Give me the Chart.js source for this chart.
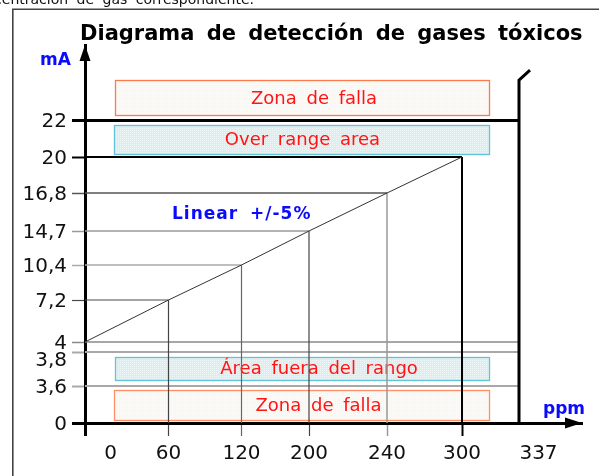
<!DOCTYPE html>
<html><head><meta charset="utf-8">
<script src="https://cdn.jsdelivr.net/npm/chart.js@4/dist/chart.umd.min.js"></script>
<style>html,body{margin:0;padding:0;background:#fff}#wrap{width:599px;height:476px;position:relative}</style>
</head><body><div id="wrap"><canvas id="c"></canvas></div>
<script>
// ---------------- data ----------------
const ppmTicks = [0, 60, 120, 200, 240, 300, 337];
const mATicks = [0, 3.6, 3.8, 4, 7.2, 10.4, 14.7, 16.8, 20, 22];
const linePpm = [0, 60, 120, 200, 240, 300];
const lineMA = [4, 7.2, 10.4, 14.7, 16.8, 20];
const limitLevels = [4, 3.8, 3.6];
const overRangeLevel = 22;
const fullScalePpm = 337;
const fullScaleTopMA = 23.6;
const breakMarkEnd = [344.5, 24];
const zoneLabels = ['Zona de falla', 'Over range area', 'Área fuera del rango', 'Zona de falla'];
const zoneLowMA = [22.2, 20.16, 3.635, 0.29];
const zoneHighMA = [23.6, 21.73, 3.77, 3.21];
const zoneFromPpm = [21.7, 20.8, 21.7, 21];
const zoneToPpm = [317.5, 317.5, 317.5, 317.5];
const titleText = 'Diagrama de detección de gases tóxicos';
const captionText = 'concentración de gas correspondiente.';
const noteText = 'Linear +/-5%';

// ---------------- layout (schematic, non-uniform axes) ----------------
const knots = {
  x: { v: [0, 60, 120, 200, 240, 300, 337, 380], px: [0, 83.5, 156.5, 224, 302, 377, 434, 497] },
  y: { v: [0, 3.6, 3.8, 4, 7.2, 10.4, 14.7, 16.8, 20, 22, 25], px: [0, 37, 71, 81, 123, 158, 192, 230, 266, 302.5, 378] }
};
const labelBase = { x: [0, 3], y: [0, 1.5] };
const labelShift = { x: { 0: [25.5, 0], 337: [19.5, 0] }, y: { 3.8: [0, 7] } };

function interp(vs, ps, v) {
  let i = 0;
  if (v <= vs[0]) i = 0; else if (v >= vs[vs.length - 1]) i = vs.length - 2;
  else { while (i < vs.length - 2 && v > vs[i + 1]) i++; }
  const t = (v - vs[i]) / (vs[i + 1] - vs[i]);
  return ps[i] + t * (ps[i + 1] - ps[i]);
}

class PiecewiseScale extends Chart.LinearScale {
  getPixelForValue(value) {
    const k = knots[this.id];
    const off = interp(k.v, k.px, value);
    return this.isHorizontal() ? this.left + off : this.bottom - off;
  }
  getValueForPixel(pixel) {
    const k = knots[this.id];
    const off = this.isHorizontal() ? pixel - this.left : this.bottom - pixel;
    return interp(k.px, k.v, off);
  }
  _computeLabelItems(chartArea) {
    const items = super._computeLabelItems(chartArea);
    const sh = labelShift[this.id] || {};
    const base = labelBase[this.id] || [0, 0];
    items.forEach((it, i) => {
      const t = this.ticks[i];
      const s = (t && sh[t.value]) || [0, 0];
      it.options.translation[0] += base[0] + s[0];
      it.options.translation[1] += base[1] + s[1];
    });
    return items;
  }
}
PiecewiseScale.id = 'piecewise';
PiecewiseScale.defaults = Chart.LinearScale.defaults;
Chart.register(PiecewiseScale);

// ---------------- styles ----------------
const FONT = 'DejaVu Sans';
const hGuideStyle = [null, ['#4a4a4a', 1.2], ['#aaaaaa', 1.5], ['#999999', 1.5], ['#555555', 1.5], ['#000000', 2]];
const vGuideStyle = [null, ['#444444', 1.2], ['#666666', 1.2], ['#444444', 1.2], ['#999999', 1.5], ['#000000', 2]];
const limitStyle = [['#8a8a8a', 1.5], ['#a8a8a8', 2], ['#a8a8a8', 2]];
const xTickStyle = { 0: ['#000', 3], 60: ['#444', 1.2], 120: ['#666', 1.2], 200: ['#444', 1.2], 240: ['#999', 1.5], 300: ['#000', 2], 337: ['rgba(0,0,0,0)', 0] };
const yTickStyle = { 0: ['#000', 3], 3.6: ['#a8a8a8', 2], 3.8: ['#a8a8a8', 2], 4: ['#8a8a8a', 1.5], 7.2: ['#4a4a4a', 1.2], 10.4: ['#aaa', 1.5], 14.7: ['#999', 1.5], 16.8: ['#555', 1.5], 20: ['#000', 2], 22: ['#000', 3] };
const zoneStyle = [
  { fill: ['#fcf6ef', '#fffdfa'], stroke: '#ff7a4a' },
  { fill: ['#dcedf0', '#eef7f8'], stroke: '#62c2d6' },
  { fill: ['#dcedf0', '#eef7f8'], stroke: '#62c2d6' },
  { fill: ['#fcf6ef', '#fffdfa'], stroke: '#ff8f66' }
];
const zoneTextDx = [12, 1, 17, 17];

function seg(points, style) {
  return { data: points, borderColor: style[0], borderWidth: style[1], showLine: true, pointRadius: 0, fill: false, tension: 0 };
}

const datasets = [];
datasets.push(seg([{ x: 0, y: overRangeLevel }, { x: fullScalePpm, y: overRangeLevel }], ['#000', 3]));
datasets.push(seg([{ x: fullScalePpm, y: 0 }, { x: fullScalePpm, y: fullScaleTopMA }, { x: breakMarkEnd[0], y: breakMarkEnd[1] }], ['#000', 3]));
datasets.push(seg(linePpm.map((x, i) => ({ x, y: lineMA[i] })), ['#333', 1]));
for (let i = 1; i < linePpm.length; i++) {
  datasets.push(seg([{ x: 0, y: lineMA[i] }, { x: linePpm[i], y: lineMA[i] }], hGuideStyle[i]));
  datasets.push(seg([{ x: linePpm[i], y: 0 }, { x: linePpm[i], y: lineMA[i] }], vGuideStyle[i]));
}
limitLevels.forEach((L, i) => datasets.push(seg([{ x: 0, y: L }, { x: fullScalePpm, y: L }], limitStyle[i])));

function pattern(ctx, base, dot) {
  const c = document.createElement('canvas'); c.width = 2; c.height = 2;
  const g = c.getContext('2d'); g.fillStyle = base; g.fillRect(0, 0, 2, 2);
  g.fillStyle = dot; g.fillRect(0, 0, 1, 1);
  return ctx.createPattern(c, 'repeat');
}

const decor = {
  id: 'decor',
  beforeDraw(chart) {
    const ctx = chart.ctx;
    ctx.save();
    ctx.fillStyle = '#fff'; ctx.fillRect(0, 0, chart.width, chart.height);
    ctx.fillStyle = '#111'; ctx.font = `14px "${FONT}"`; ctx.textAlign = 'right'; ctx.textBaseline = 'alphabetic';
    try { ctx.wordSpacing = '4px'; } catch (e) {}
    ctx.fillText(captionText, 254, 4);
    ctx.strokeStyle = '#444'; ctx.lineWidth = 1.6;
    ctx.beginPath(); ctx.moveTo(12.8, chart.height + 5); ctx.lineTo(12.8, 9.3); ctx.lineTo(chart.width + 5, 9.3); ctx.stroke();
    ctx.fillStyle = '#000'; ctx.font = `bold 21px "${FONT}"`; ctx.textAlign = 'left';
    try { ctx.wordSpacing = '5px'; } catch (e) {}
    ctx.fillText(titleText, 80, 40);
    ctx.restore();
  },
  beforeDatasetsDraw(chart) {
    const ctx = chart.ctx, xs = chart.scales.x, ys = chart.scales.y;
    ctx.save();
    zoneLabels.forEach((lab, i) => {
      const x1 = xs.getPixelForValue(zoneFromPpm[i]), x2 = xs.getPixelForValue(zoneToPpm[i]);
      const y1 = ys.getPixelForValue(zoneHighMA[i]), y2 = ys.getPixelForValue(zoneLowMA[i]);
      const st = zoneStyle[i];
      ctx.fillStyle = pattern(ctx, st.fill[0], st.fill[1]);
      ctx.fillRect(x1, y1, x2 - x1, y2 - y1);
      ctx.strokeStyle = st.stroke; ctx.lineWidth = 1.3;
      ctx.strokeRect(Math.round(x1) + 0.5, Math.round(y1) + 0.5, Math.round(x2 - x1), Math.round(y2 - y1));
      ctx.fillStyle = '#ff1414'; ctx.font = `18px "${FONT}"`; ctx.textAlign = 'center'; ctx.textBaseline = 'middle';
      try { ctx.wordSpacing = '4px'; } catch (e) {}
      ctx.fillText(lab, (x1 + x2) / 2 + zoneTextDx[i], (y1 + y2) / 2 + 1);
    });
    ctx.restore();
  },
  afterDraw(chart) {
    const ctx = chart.ctx, a = chart.chartArea;
    ctx.save();
    ctx.fillStyle = '#000';
    ctx.beginPath(); ctx.moveTo(a.left, a.top); ctx.lineTo(a.left - 5.5, a.top + 16); ctx.lineTo(a.left + 5.5, a.top + 16); ctx.closePath(); ctx.fill();
    ctx.beginPath(); ctx.moveTo(a.right, a.bottom); ctx.lineTo(a.right - 17, a.bottom - 5.5); ctx.lineTo(a.right - 17, a.bottom + 5.5); ctx.closePath(); ctx.fill();
    ctx.fillStyle = '#0a0aff'; ctx.font = `bold 17px "${FONT}"`; ctx.textBaseline = 'alphabetic';
    ctx.textAlign = 'left';
    ctx.fillText('mA', 40, 65);
    ctx.fillText('ppm', 543, 414);
    try { ctx.wordSpacing = '5px'; ctx.letterSpacing = '1px'; } catch (e) {}
    ctx.fillText(noteText, 172, 219);
    ctx.restore();
  }
};

new Chart(document.getElementById('c'), {
  type: 'scatter',
  data: { datasets },
  options: {
    responsive: true, maintainAspectRatio: false, animation: false, events: [],
    layout: { padding: { left: 0, right: 17, top: 45, bottom: 0 } },
    plugins: { legend: { display: false }, tooltip: { enabled: false }, title: { display: false } },
    scales: {
      x: {
        type: 'piecewise', min: 0, max: 380,
        afterBuildTicks: s => { s.ticks = ppmTicks.map(v => ({ value: v })); },
        afterFit: s => { s.height = 53; },
        ticks: { autoSkip: false, maxRotation: 0, padding: 3, color: '#111', font: { family: FONT, size: 20 },
          callback: v => String(v) },
        grid: { drawOnChartArea: false, drawTicks: true, tickLength: 13,
          tickColor: c => (xTickStyle[c.tick && c.tick.value] || ['#000', 1])[0],
          tickWidth: c => (xTickStyle[c.tick && c.tick.value] || ['#000', 1])[1] },
        border: { display: true, color: '#000', width: 3 }
      },
      y: {
        type: 'piecewise', min: 0, max: 25,
        afterBuildTicks: s => { s.ticks = mATicks.map(v => ({ value: v })); },
        afterFit: s => { s.width = 85; },
        ticks: { autoSkip: false, padding: 5, color: '#111', font: { family: FONT, size: 20 },
          callback: v => String(v).replace('.', ',') },
        grid: { drawOnChartArea: false, drawTicks: true, tickLength: 13,
          tickColor: c => (yTickStyle[c.tick && c.tick.value] || ['#000', 1])[0],
          tickWidth: c => (yTickStyle[c.tick && c.tick.value] || ['#000', 1])[1] },
        border: { display: true, color: '#000', width: 3 }
      }
    }
  },
  plugins: [decor]
});
</script></body></html>
